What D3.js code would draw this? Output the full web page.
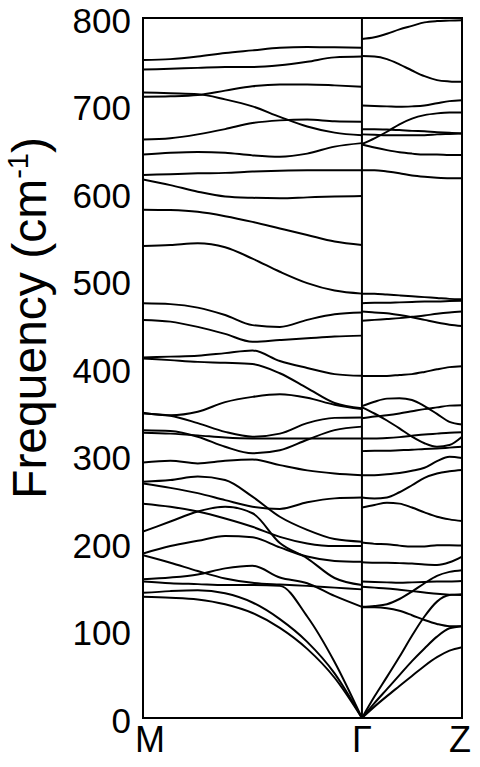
<!DOCTYPE html>
<html>
<head>
<meta charset="utf-8">
<script src="https://cdn.jsdelivr.net/npm/d3@7"></script>
<style>
    body { margin: 0; background: #fff; }
    svg { display: block; }
    text { font-family: "Liberation Sans", Arial, sans-serif; fill: #000; }
</style>
</head>
<body>
<svg id="band-chart" width="480" height="767"></svg>
<script>
// high symmetry points and their position along the path
const kLabels = ["M", "Γ", "Z"];
const kPositions = [0, 1, 1.457];

const freqTicks = [0, 100, 200, 300, 400, 500, 600, 700, 800];

// fraction along each segment where the bands were read
const segmentSteps = [0, 0.125, 0.25, 0.375, 0.5, 0.625, 0.75, 0.875, 1];

// bands on M -> Γ (cm-1)
const bandsMG = [
    [752, 753, 756, 760, 763, 766, 767, 766.5, 766],
    [741, 742, 743, 744, 744, 746, 750, 755, 756],
    [715, 714, 713, 707, 699, 687, 676, 669, 666],
    [710, 710.5, 712, 717, 722, 724, 724, 723, 721.5],
    [661, 662.5, 667, 673, 680, 683, 684, 682, 681.5],
    [644, 646, 647, 646, 643, 641.5, 645, 653, 657],
    [620.5, 621.5, 622.5, 623, 624.5, 625.5, 626, 626, 626],
    [615.5, 609, 601.5, 596, 594.5, 594, 595, 596, 596.5],
    [581, 580.5, 578.5, 573.5, 567, 559.5, 552, 544.5, 540.5],
    [539.5, 540.5, 542.5, 538, 525, 510, 497, 488.5, 485],
    [474, 473, 469, 460.5, 449, 447, 455, 461.5, 463.5],
    [455, 453, 447, 439, 430, 432, 434, 436, 437],
    [412, 413, 414, 417, 420, 408, 400, 393, 391],
    [411, 409, 407, 406, 404.5, 394, 377, 360, 354],
    [349, 346, 350, 361, 367, 370, 366, 358, 353],
    [348, 345.5, 337, 327, 321.5, 325, 337, 343, 343.5],
    [329, 328, 321.5, 310, 302.5, 306, 318, 329, 333],
    [326, 325, 323, 320.5, 319.5, 319.5, 319.5, 319.5, 319.5],
    [292, 294, 291, 294, 295.5, 289, 283, 279.5, 277.5],
    [270, 272, 276, 272, 253, 230, 215, 204.5, 201.5],
    [268, 263, 257, 249, 241.5, 239, 246.5, 251, 252],
    [245, 241.5, 236, 228, 218.5, 207, 199.5, 196.5, 196.5],
    [213, 224.5, 236, 241.5, 234, 200, 182.5, 160, 152],
    [188, 196.5, 202.5, 208, 206.5, 195, 184.5, 179.5, 178.5],
    [186, 177.5, 168, 159.5, 154.5, 152.5, 151, 149, 147],
    [158.5, 160.5, 164, 171, 174, 160.5, 154, 139.5, 127],
    [156, 154, 153, 152, 152, 151, 116, 64, 0],
    [143, 145, 146, 142.5, 132, 113, 87, 51, 0],
    [138.5, 137.5, 135.5, 130, 120, 103, 79, 46, 0]
];

// bands on Γ -> Z (cm-1)
const bandsGZ = [
    [776, 778, 782, 787, 791, 795, 796.5, 797, 797.5],
    [756.5, 756, 753, 747, 740, 733.5, 729, 727.5, 727],
    [700, 699.5, 699, 698.5, 699, 700, 702.5, 705, 706],
    [656, 662.5, 670, 678.5, 685, 689, 691, 692, 692],
    [673, 673, 672.5, 672, 671, 670.5, 669.5, 669, 668],
    [667, 666.5, 666, 666, 666, 666, 667, 667.5, 668],
    [655.5, 652, 649, 646.5, 645, 644, 644, 643.5, 643.5],
    [626, 626, 624.5, 622.5, 620, 618.5, 617.5, 617, 617],
    [485, 485, 484, 483, 482, 481, 480, 479, 478.5],
    [474, 474.5, 474.5, 475, 475.5, 476, 476, 476.5, 477],
    [464.5, 463.5, 462.5, 460.5, 458, 455, 452, 449.5, 448],
    [454, 455, 456, 457, 458.5, 460, 462, 463.5, 464.5],
    [391, 391, 391, 392, 393, 395.5, 398.5, 401, 402],
    [356.5, 361.5, 365, 365.5, 363.5, 356.5, 347.5, 338.5, 335.5],
    [342.5, 344.5, 346, 348, 350.5, 353, 355, 357, 357.5],
    [355, 348, 340, 331, 321.5, 314, 310, 312, 321.5],
    [319.5, 319.5, 320, 321, 322.5, 324, 325, 326, 326.5],
    [305, 305.5, 305.5, 306, 306.5, 307.5, 308, 309, 310],
    [277.5, 277.5, 278.5, 280, 282.5, 286, 293.5, 298.5, 297],
    [252, 251, 252, 258, 266, 274.5, 279.5, 282, 283.5],
    [240.5, 243.5, 246, 245, 240.5, 235, 230, 227, 225],
    [200.5, 199, 198.5, 197, 196, 196, 197.5, 197.5, 197],
    [178, 177.5, 177.5, 177, 176.5, 175.5, 175, 178, 184.5],
    [127, 128, 130, 136, 144.5, 154, 162.5, 167, 169],
    [156, 155.5, 155, 154.5, 155, 155.5, 156, 156, 156.5],
    [150, 149, 148, 146.5, 145, 143.5, 142, 141, 140.5],
    [126.5, 126.5, 125.5, 122.5, 117.5, 112, 107.5, 105, 105],
    [0, 24.5, 47, 70, 94, 116, 133, 140.5, 141.5],
    [0, 17, 33, 49, 65, 79.5, 93, 102.5, 105],
    [0, 13, 25, 36.5, 48, 59.5, 69.5, 77, 81]
];

/**
 * Basic sizes
 */
const margin = {top: 18, right: 18, bottom: 49, left: 143};
const width = 480 - margin.left - margin.right;
const height = 767 - margin.top - margin.bottom;

const svgElement = d3.select("#band-chart");
const chart = svgElement.append("g").attr("transform", `translate(${margin.left}, ${margin.top})`);

const xScale = d3.scaleLinear().domain([0, kPositions[kPositions.length - 1]]).range([0, width]);
const yScale = d3.scaleLinear().domain([0, 800]).range([height, 0]);

chart.append("defs")
    .append("clipPath")
    .attr("id", "clip")
    .append("rect")
    .attr("width", width)
    .attr("height", height);

const bandArea = chart.append("g").attr("clip-path", "url(#clip)");

/**
 * draws all bands of one segment between two high symmetry points
 * @param bands
 * @param k0
 * @param k1
 */
function drawSegment(bands, k0, k1) {
    const line = d3.line()
        .x((d, i) => xScale(k0 + segmentSteps[i] * (k1 - k0)))
        .y(d => yScale(d))
        .curve(d3.curveMonotoneX);

    bandArea.selectAll(null)
        .data(bands)
        .enter()
        .append("path")
        .attr("fill", "none")
        .attr("stroke", "#000")
        .attr("stroke-width", 2)
        .attr("d", line);
}

drawSegment(bandsMG, kPositions[0], kPositions[1]);
drawSegment(bandsGZ, kPositions[1], kPositions[2]);

// vertical line at Γ
chart.append("line")
    .attr("x1", xScale(kPositions[1]))
    .attr("x2", xScale(kPositions[1]))
    .attr("y1", 0)
    .attr("y2", height)
    .attr("stroke", "#000")
    .attr("stroke-width", 2);

// frame
chart.append("rect")
    .attr("width", width)
    .attr("height", height)
    .attr("fill", "none")
    .attr("stroke", "#000")
    .attr("stroke-width", 2);

/**
 * Axis
 */
const yAxis = chart.append("g")
    .call(d3.axisLeft(yScale).tickValues(freqTicks).tickSize(0).tickPadding(12));
yAxis.select(".domain").remove();
yAxis.selectAll("text")
    .attr("dy", "0.4em")
    .style("font-family", "\"Liberation Sans\", Arial, sans-serif")
    .style("font-size", "35px")
    .attr("fill", "#000");

chart.selectAll(".k-label")
    .data(kLabels)
    .enter()
    .append("text")
    .attr("class", "k-label")
    .attr("x", (d, i) => xScale(kPositions[i]))
    .attr("dx", (d, i) => i === 0 ? 7 : (i === kLabels.length - 1 ? -2 : 0))
    .attr("y", height + 34)
    .attr("text-anchor", "middle")
    .style("font-size", "36px")
    .text(d => d);

// y label
const yLabel = svgElement.append("text")
    .attr("transform", "translate(46, 318) rotate(-90)")
    .attr("text-anchor", "middle")
    .style("font-size", "48px");
yLabel.append("tspan").text("Frequency (cm");
yLabel.append("tspan").attr("dy", -18).style("font-size", "29px").text("-1");
yLabel.append("tspan").attr("dy", 18).text(")");
</script>
</body>
</html>
